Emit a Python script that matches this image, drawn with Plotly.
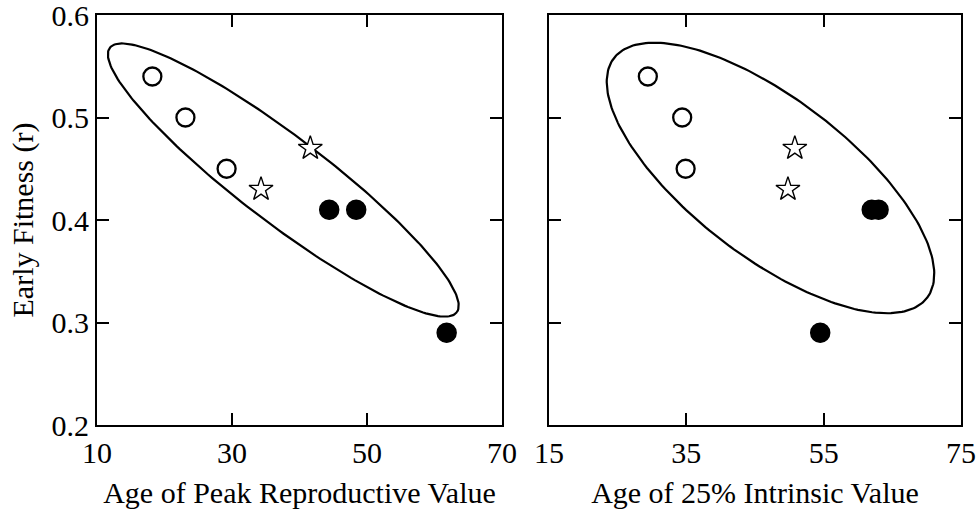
import numpy as np
import plotly.graph_objects as go
from plotly.subplots import make_subplots

# Left panel: age of peak reproductive value vs early fitness
peak_open_x = [18.2, 23.1, 29.2]
peak_open_y = [0.54, 0.50, 0.45]
peak_star_x = [41.6, 34.3]
peak_star_y = [0.47, 0.43]
peak_fill_x = [44.4, 48.4, 61.8]
peak_fill_y = [0.41, 0.41, 0.29]

# Right panel: age of 25% intrinsic value vs early fitness
intr_open_x = [29.4, 34.4, 34.9]
intr_open_y = [0.54, 0.50, 0.45]
intr_star_x = [50.8, 49.8]
intr_star_y = [0.47, 0.43]
intr_fill_x = [62.0, 63.0, 54.5]
intr_fill_y = [0.41, 0.41, 0.29]

# Ellipses: centre, semi-major vector, semi-minor vector (data units)
peak_ell_center = (37.6, 0.439)
peak_ell_major = (25.7, -0.129)
peak_ell_minor = (-3.87, -0.0334)
intr_ell_center = (47.26, 0.441)
intr_ell_major = (22.8, -0.1169)
intr_ell_minor = (-6.99, -0.0613)

y_ticks = [0.2, 0.3, 0.4, 0.5, 0.6]
y_labels = ["0.2", "0.3", "0.4", "0.5", "0.6"]
peak_x_ticks = [10, 30, 50, 70]
intr_x_ticks = [15, 35, 55, 75]

FONT = "Liberation Serif, Times New Roman, Times, serif"

fig = make_subplots(rows=1, cols=2, horizontal_spacing=0.0)


def ellipse(center, major, minor, n=240):
    t = np.linspace(0, 2 * np.pi, n)
    x = center[0] + np.cos(t) * major[0] + np.sin(t) * minor[0]
    y = center[1] + np.cos(t) * major[1] + np.sin(t) * minor[1]
    return x, y


def add_panel(col, ell, ox, oy, sx, sy, fx, fy):
    ex, ey = ellipse(*ell)
    fig.add_trace(go.Scatter(x=ex, y=ey, mode="lines",
                             line=dict(color="black", width=2.2),
                             hoverinfo="skip"), row=1, col=col)
    fig.add_trace(go.Scatter(x=ox, y=oy, mode="markers",
                             marker=dict(symbol="circle", size=18, color="white",
                                         line=dict(color="black", width=2.3))),
                  row=1, col=col)
    fig.add_trace(go.Scatter(x=sx, y=sy, mode="markers",
                             marker=dict(symbol="star", size=18, color="white",
                                         line=dict(color="black", width=1.4))),
                  row=1, col=col)
    fig.add_trace(go.Scatter(x=fx, y=fy, mode="markers",
                             marker=dict(symbol="circle", size=19, color="black",
                                         line=dict(color="black", width=1.5))),
                  row=1, col=col)


add_panel(1, (peak_ell_center, peak_ell_major, peak_ell_minor),
          peak_open_x, peak_open_y, peak_star_x, peak_star_y, peak_fill_x, peak_fill_y)
add_panel(2, (intr_ell_center, intr_ell_major, intr_ell_minor),
          intr_open_x, intr_open_y, intr_star_x, intr_star_y, intr_fill_x, intr_fill_y)

axis_common = dict(showline=True, linecolor="black", linewidth=2, mirror="allticks",
                   ticks="inside", ticklen=12, tickwidth=2, tickcolor="black",
                   showgrid=False, zeroline=False, ticklabeloverflow="allow",
                   automargin=False,
                   tickfont=dict(family=FONT, size=30, color="black"))

fig.update_xaxes(axis_common)
fig.update_yaxes(axis_common)

title_font = dict(family=FONT, size=30, color="black")

fig.update_xaxes(range=[10, 70], tickvals=peak_x_ticks, domain=[0, 0.46875],
                 title=dict(text="Age of Peak Reproductive Value",
                            font=title_font, standoff=14),
                 row=1, col=1)
fig.update_xaxes(range=[15, 75], tickvals=intr_x_ticks, domain=[0.5231, 1],
                 title=dict(text="Age of 25% Intrinsic Value",
                            font=title_font, standoff=14),
                 row=1, col=2)
fig.update_yaxes(range=[0.2, 0.6], tickvals=y_ticks, ticktext=y_labels,
                 title=dict(text="Early Fitness (r)", font=title_font, standoff=9),
                 row=1, col=1)
fig.update_yaxes(range=[0.2, 0.6], tickvals=y_ticks, showticklabels=False,
                 row=1, col=2)

fig.update_layout(width=978, height=514, showlegend=False,
                  plot_bgcolor="white", paper_bgcolor="white",
                  margin=dict(l=97, r=17, t=15, b=89, autoexpand=False),
                  font=dict(family=FONT, color="black"))

fig.write_html("out.html")
